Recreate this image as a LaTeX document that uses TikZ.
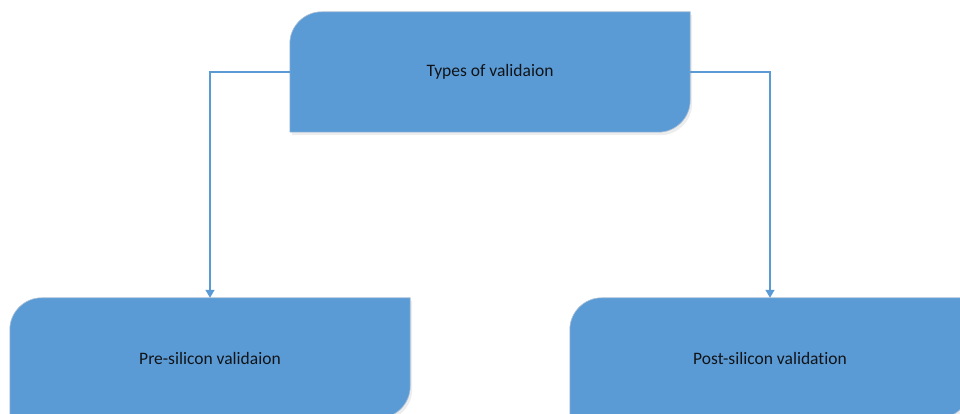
\documentclass[tikz,border=0pt]{standalone}
\usepackage{fontspec}
\setmainfont[Ligatures=NoCommon]{Carlito}
\usetikzlibrary{arrows.meta}
\definecolor{boxblue}{HTML}{5B9BD5}
\definecolor{boxedge}{HTML}{A9BFD6}
\definecolor{txt}{HTML}{101418}
\tikzset{
  procbox/.style={rectangle, minimum width=400pt, minimum height=120pt,
    inner sep=0pt, text=txt, font=\fontsize{17.5}{20}\selectfont},
  link/.style={draw=boxblue, line width=1.3pt,
    -{Triangle[width=9pt,length=8pt]}},
}
% filled box with the top-left and bottom-right corners rounded
\newcommand\tabbox[2][32]{%
  \fill[black, opacity=0.07]
    ([xshift=2pt,yshift=-3pt]#2.south west) -- ([xshift=2pt,yshift=-#1pt-3pt]#2.north west)
    arc(180:90:#1pt) -- ([xshift=2pt,yshift=-3pt]#2.north east)
    -- ([xshift=2pt,yshift=#1pt-3pt]#2.south east) arc(0:-90:#1pt) -- cycle;
  \filldraw[fill=boxblue, draw=boxedge, line width=0.6pt]
    (#2.south west) -- ([yshift=-#1pt]#2.north west)
    arc(180:90:#1pt) -- (#2.north east)
    -- ([yshift=#1pt]#2.south east) arc(0:-90:#1pt) -- cycle;
}
\begin{document}
\begin{tikzpicture}[x=1pt,y=1pt]
  \useasboundingbox (0,0) rectangle (960,414);
  \clip (0,0) rectangle (960,414);
  \fill[white] (0,0) rectangle (960,414);

  % node positions
  \node[procbox] (types) at (490,342) {};
  \node[procbox] (pre)   at (210,56)  {};
  \node[procbox] (post)  at (770,56)  {};

  % box shapes
  \tabbox{types}
  \tabbox{pre}
  \tabbox{post}

  % labels
  \node[procbox] at (types.center) {Types of validaion};
  \node[procbox] at (pre.center)   {Pre-silicon validaion};
  \node[procbox] at (post.center)  {Post-silicon validation};

  % connectors
  \draw[link] (types.west) -| (pre.north);
  \draw[link] (types.east) -| (post.north);
\end{tikzpicture}
\end{document}
